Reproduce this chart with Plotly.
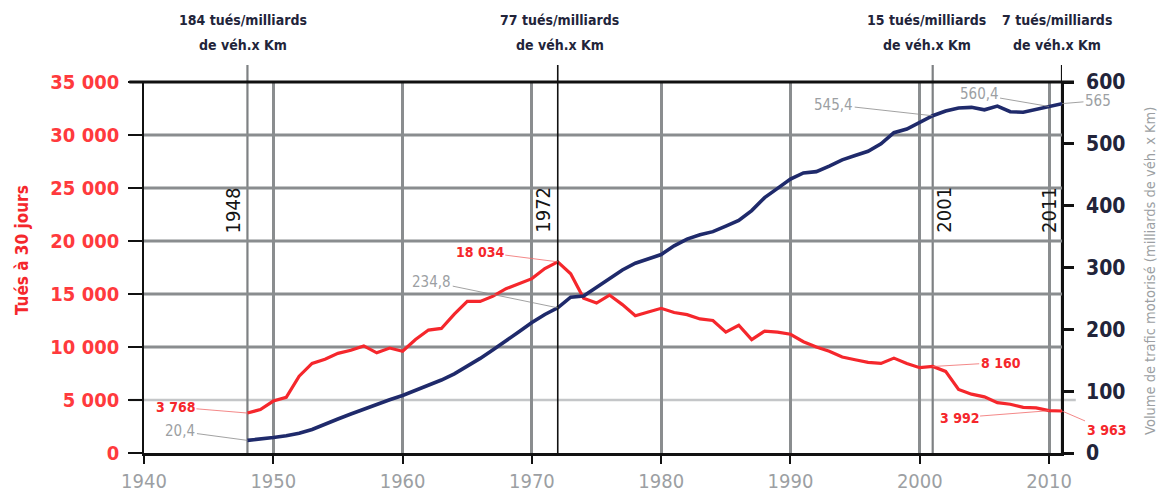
import plotly.graph_objects as go

# ---------------- data ----------------
years = list(range(1948, 2012))
killed = [3768, 4100, 4900, 5250, 7250, 8450, 8850, 9400, 9700, 10100,
          9450, 9900, 9600, 10700, 11600, 11750, 13100, 14300, 14300, 14800,
          15500, 16000, 16450, 17400, 18034, 16900, 14600, 14150, 14900, 14000,
          12950, 13300, 13650, 13250, 13050, 12650, 12500, 11400, 12050, 10700,
          11500, 11400, 11200, 10500, 10000, 9600, 9050, 8800, 8550, 8450,
          8950, 8450, 8050, 8160, 7700, 6000, 5550, 5300, 4750, 4600,
          4300, 4250, 3992, 3963]
traffic = [20.4, 22, 25, 28, 32, 38, 47, 55, 63, 71,
           79, 86, 93, 101, 109, 118, 128, 140, 153, 167,
           181, 196, 211, 224, 234.8, 252, 254, 268, 281, 296,
           307, 314, 321, 335, 346, 353, 358, 367, 376, 392,
           413, 428, 443, 453, 455, 464, 474, 481, 488, 500,
           518, 524, 535, 545.4, 553, 558, 559, 555, 561, 552,
           551, 556, 560.4, 565]

x_ticks = [1940, 1950, 1960, 1970, 1980, 1990, 2000, 2010]
y_grid_dark = [10000, 15000, 20000, 25000, 30000]
y_grid_light = [5000]

marker_years = [1948, 1972, 2001, 2011]
rate_texts = ["184 tués/milliards", "77 tués/milliards", "15 tués/milliards", "7 tués/milliards"]
rate_line2 = "de véh.x Km"

# labelled points: (year, text offset ax, ay)
red_labels = [(1948, -72, -6), (1972, -78, -10), (2001, 68, -4), (2010, -90, 7), (2011, 44, 19)]
blue_labels = [(1948, -67, -9), (1972, -126, -26), (2001, -99, -11), (2010, -70, -12), (2011, 36, -3)]

# ---------------- style ----------------
FONT = "DejaVu Sans Condensed, DejaVu Sans, sans-serif"
RED = "#f5272c"
NAVY = "#1f2a6b"
GRID = "#8a8d8f"
LABEL_GRAY = "#9c9fa3"
DARK = "#22243a"


def fmt_red(v):
    return f"{v:,}".replace(",", " ")


def fmt_blue(v):
    return (f"{v:g}").replace(".", ",")


fig = go.Figure()
fig.add_trace(go.Scatter(x=years, y=killed, mode="lines", yaxis="y",
                         line=dict(color=RED, width=3.2), showlegend=False))
fig.add_trace(go.Scatter(x=years, y=traffic, mode="lines", yaxis="y2",
                         line=dict(color=NAVY, width=3.6), showlegend=False))

shapes = []
for v in y_grid_dark:
    shapes.append(dict(type="line", xref="x", yref="y", x0=1940, x1=2011, y0=v, y1=v,
                       line=dict(color=GRID, width=3), layer="between"))
for v in y_grid_light:
    shapes.append(dict(type="line", xref="paper", yref="y", x0=-0.016, x1=1.015, y0=v, y1=v,
                       line=dict(color="#c4c6c8", width=2.5), layer="between"))
for yr in marker_years:
    col = "#111111" if yr in (1972, 2011) else "#7e8183"
    w = 1.6 if yr == 1972 else 2.2
    shapes.append(dict(type="line", xref="x", yref="paper", x0=yr, x1=yr, y0=0, y1=1.046,
                       line=dict(color=col, width=w), layer="above" if yr == 1972 else "between"))
# top border extended
shapes.append(dict(type="line", xref="paper", yref="paper", x0=-0.016, x1=1.013, y0=1, y1=1,
                   line=dict(color="#111111", width=3)))

annotations = []
rate_shift = {1948: -4, 1972: 2, 2001: -6, 2011: -5}
for yr, t in zip(marker_years, rate_texts):
    annotations.append(dict(x=yr, y=1, xref="x", yref="paper", text=t, showarrow=False,
                            yshift=62, xshift=rate_shift[yr], yanchor="middle",
                            font=dict(family=FONT, size=14, color=DARK, weight="bold")))
    annotations.append(dict(x=yr, y=1, xref="x", yref="paper", text=rate_line2, showarrow=False,
                            yshift=37, xshift=rate_shift[yr], yanchor="middle",
                            font=dict(family=FONT, size=14, color=DARK, weight="bold")))
# rotated year labels
year_shift = {1948: -14, 1972: -15, 2001: 11, 2011: -13}
for yr in marker_years:
    annotations.append(dict(x=yr, y=0.655, xref="x", yref="paper", text=str(yr), showarrow=False,
                            textangle=-90, xshift=year_shift[yr], yanchor="middle",
                            font=dict(family=FONT, size=20, color="#151515")))

for yr, ax, ay in red_labels:
    v = killed[years.index(yr)]
    annotations.append(dict(x=yr, y=v, xref="x", yref="y", text=fmt_red(v), showarrow=True,
                            arrowhead=0, arrowwidth=0.8, arrowcolor="#f06a6a", ax=ax, ay=ay,
                            standoff=0, font=dict(family=FONT, size=14, color=RED, weight="bold")))
for yr, ax, ay in blue_labels:
    v = traffic[years.index(yr)]
    annotations.append(dict(x=yr, y=v, xref="x", yref="y2", text=fmt_blue(v), showarrow=True,
                            arrowhead=0, arrowwidth=0.8, arrowcolor="#8a8a8a", ax=ax, ay=ay,
                            standoff=0, font=dict(family=FONT, size=15, color=LABEL_GRAY)))

# axis titles
annotations.append(dict(x=-0.146, y=0.547, xref="paper", yref="paper", text="Tués à 30 jours",
                        showarrow=False, textangle=-90, yanchor="middle",
                        font=dict(family=FONT, size=17, color=RED, weight="bold")))
annotations.append(dict(x=1.1075, y=0.49, xref="paper", yref="paper",
                        text="Volume de trafic motorisé (milliards de véh. x Km)",
                        showarrow=False, textangle=-90, yanchor="middle",
                        font=dict(family=FONT, size=14.5, color=LABEL_GRAY)))

fig.update_layout(
    width=1162, height=494, autosize=False,
    margin=dict(l=144, r=100, t=82, b=41, autoexpand=False),
    paper_bgcolor="white", plot_bgcolor="white",
    separators=", ",
    shapes=shapes, annotations=annotations,
    xaxis=dict(range=[1940, 2011], tickvals=x_ticks, showgrid=True, gridcolor=GRID, gridwidth=3,
               showline=True, linecolor="#111111", linewidth=3, ticks="outside", ticklen=8,
               tickwidth=2, tickcolor="#111111", zeroline=False, automargin=False,
               tickfont=dict(family=FONT, size=20, color=LABEL_GRAY)),
    yaxis=dict(range=[0, 35000], dtick=5000, showgrid=False, zeroline=False, showline=True,
               linecolor="#111111", linewidth=1.6, ticks="outside", ticklen=14, tickwidth=2,
               tickcolor="#111111", tickformat=",d", automargin=False, ticklabelstandoff=5,
               tickfont=dict(family=FONT, size=20, color="#ff3a3d", weight="bold")),
    yaxis2=dict(range=[0, 600], dtick=100, overlaying="y", side="right", showgrid=False,
                zeroline=False, showline=True, linecolor="#111111", linewidth=1.6,
                ticks="outside", ticklen=10, tickwidth=3, tickcolor="#111111",
                automargin=False, ticklabelstandoff=8,
                tickfont=dict(family=FONT, size=21, color=DARK, weight="bold")),
)

fig.write_html("out.html", config={"displayModeBar": False},
               post_script="document.body.style.margin='0';document.body.style.overflow='hidden';")
